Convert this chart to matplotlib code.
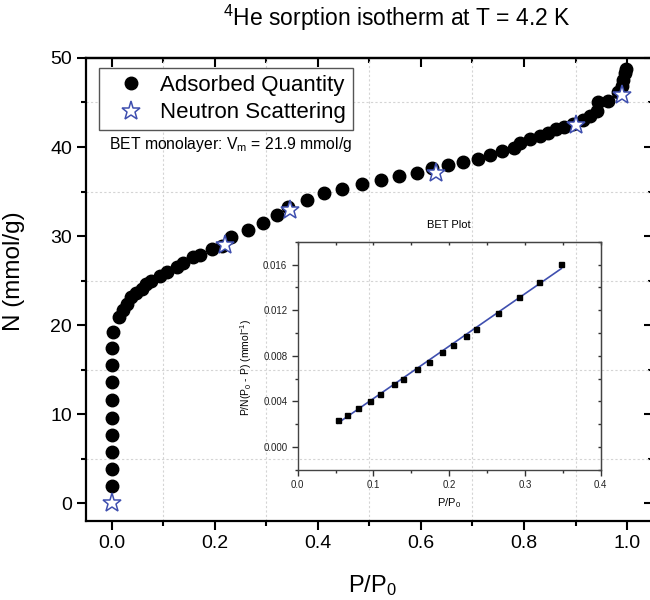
import numpy as np
import matplotlib
matplotlib.use("Agg")
import matplotlib.pyplot as plt
from matplotlib.ticker import MultipleLocator, FormatStrFormatter

plt.rcParams['font.family'] = ['Liberation Sans', 'DejaVu Sans']
plt.rcParams['mathtext.fontset'] = 'custom'
plt.rcParams['mathtext.rm'] = 'Liberation Sans'
plt.rcParams['mathtext.it'] = 'Liberation Sans:italic'

# isotherm
p_ads = [0.0, 0.0, 0.0, 0.0, 0.0, 0.0, 0.0, 0.0, 0.0, 0.003,
         0.014, 0.022, 0.029, 0.038, 0.048, 0.058, 0.067, 0.077, 0.093, 0.107,
         0.126, 0.138, 0.158, 0.172, 0.194, 0.213, 0.232, 0.265, 0.293, 0.320,
         0.343, 0.378, 0.412, 0.447, 0.485, 0.522, 0.558, 0.592, 0.621, 0.653,
         0.681, 0.710, 0.735, 0.757, 0.780, 0.792, 0.812, 0.831, 0.847, 0.863,
         0.877, 0.895, 0.915, 0.928, 0.941, 0.944, 0.963, 0.983, 0.990, 0.993,
         0.996, 0.998]
n_ads = [1.9, 3.85, 5.8, 7.6, 9.6, 11.6, 13.6, 15.5, 17.4, 19.2,
         20.9, 21.7, 22.4, 23.1, 23.6, 24.1, 24.6, 25.0, 25.5, 26.0,
         26.5, 27.0, 27.6, 27.9, 28.5, 28.9, 29.9, 30.7, 31.5, 32.4,
         33.3, 34.0, 34.8, 35.3, 35.8, 36.3, 36.7, 37.1, 37.6, 38.0,
         38.3, 38.7, 39.1, 39.5, 39.9, 40.5, 40.9, 41.2, 41.6, 42.0,
         42.3, 42.6, 43.0, 43.5, 44.0, 45.0, 45.2, 46.2, 46.8, 47.5,
         48.3, 48.8]

# neutron scattering points
p_ns = [0.0, 0.219, 0.346, 0.629, 0.900, 0.990]
n_ns = [0.0, 29.0, 32.9, 37.1, 42.5, 45.8]

# BET plot
p_bet = [0.053, 0.065, 0.079, 0.096, 0.109, 0.127, 0.139, 0.158, 0.173,
         0.191, 0.205, 0.222, 0.235, 0.264, 0.292, 0.318, 0.348]
v_bet = [0.00236, 0.00286, 0.00344, 0.00405, 0.00463, 0.00551, 0.00600,
         0.00682, 0.00750, 0.00833, 0.00898, 0.00973, 0.01032, 0.01175,
         0.01314, 0.01446, 0.01606]
bet_slope = 0.0459
bet_icpt = -0.00033

star_col = '#3F4FAF'

fig = plt.figure(figsize=(6.5, 6), dpi=100)
ax = fig.add_axes([0.1323, 0.1317, 0.872, 0.7717])

ax.plot(p_ads, n_ads, 'o', color='black', ms=9, label='Adsorbed Quantity', zorder=3)
ax.plot(p_ns, n_ns, '*', mfc='white', mec=star_col, mew=1.1, ms=14,
        label='Neutron Scattering', zorder=4)

ax.set_xlim(-0.05, 1.05)
ax.set_ylim(-2, 50)
ax.xaxis.set_major_locator(MultipleLocator(0.2))
ax.xaxis.set_minor_locator(MultipleLocator(0.1))
ax.yaxis.set_major_locator(MultipleLocator(10))
ax.yaxis.set_minor_locator(MultipleLocator(5))
ax.xaxis.set_major_formatter(FormatStrFormatter('%.1f'))
ax.grid(which='minor', color='#d4d4d4', linestyle=(0, (2, 2)), linewidth=0.8)
ax.tick_params(which='major', direction='out', length=6.5, width=1.5, labelsize=14)
ax.tick_params(which='minor', direction='out', length=3.5, width=1.5)
for s in ax.spines.values():
    s.set_linewidth(1.6)

# mirrored ticks pointing inwards on top and right
top = ax.secondary_xaxis('top')
top.xaxis.set_major_locator(MultipleLocator(0.2))
top.xaxis.set_minor_locator(MultipleLocator(0.1))
top.tick_params(which='major', direction='in', length=6.5, width=1.5, labeltop=False)
top.tick_params(which='minor', direction='in', length=3.5, width=1.5)
top.spines['top'].set_linewidth(1.6)
right = ax.secondary_yaxis('right')
right.yaxis.set_major_locator(MultipleLocator(10))
right.yaxis.set_minor_locator(MultipleLocator(5))
right.tick_params(which='major', direction='in', length=6.5, width=1.5, labelright=False)
right.tick_params(which='minor', direction='in', length=3.5, width=1.5)
right.spines['right'].set_linewidth(1.6)

ax.set_xlabel('P/P$_0$', fontsize=17)
ax.set_ylabel('N (mmol/g)', fontsize=17.5)
ax.xaxis.set_label_coords(0.506, -0.112)
ax.yaxis.set_label_coords(-0.108, 0.54)
fig.text(0.611, 0.97, '$^{4}$He sorption isotherm at T = 4.2 K', fontsize=16.5,
         ha='center', va='center')

leg = ax.legend(loc='upper left', bbox_to_anchor=(0.023, 0.978), fontsize=16,
                fancybox=False, framealpha=1, edgecolor='#555555',
                handletextpad=0.15, borderpad=0.3, labelspacing=0.3,
                handlelength=2.3, borderaxespad=0)
leg.get_frame().set_linewidth(1.0)

ax.text(0.04, 0.813, 'BET monolayer: V$_\\mathrm{m}$ = 21.9 mmol/g',
        transform=ax.transAxes, fontsize=11.3, va='center')

# inset BET plot
ins = fig.add_axes([0.458, 0.2167, 0.4662, 0.3805])
ins.patch.set_alpha(0)
ins.plot(p_bet, v_bet, 's', color='black', ms=3.6, zorder=3)
xf = np.array([p_bet[0], p_bet[-1]])
ins.plot(xf, bet_slope * xf + bet_icpt, color=star_col, lw=1.2, zorder=2)
ins.set_xlim(0, 0.4)
ins.set_ylim(-0.002, 0.018)
ins.xaxis.set_major_locator(MultipleLocator(0.1))
ins.xaxis.set_minor_locator(MultipleLocator(0.05))
ins.yaxis.set_major_locator(MultipleLocator(0.004))
ins.yaxis.set_minor_locator(MultipleLocator(0.002))
ins.xaxis.set_major_formatter(FormatStrFormatter('%.1f'))
ins.yaxis.set_major_formatter(FormatStrFormatter('%.3f'))
ins.tick_params(which='major', direction='out', length=4, width=1, labelsize=7,
                color='#333333', labelcolor='#222222')
ins.tick_params(which='minor', direction='out', length=2.5, width=1, color='#333333')
for s in ins.spines.values():
    s.set_linewidth(1.0)
    s.set_color('#444444')
itop = ins.secondary_xaxis('top')
itop.xaxis.set_major_locator(MultipleLocator(0.1))
itop.xaxis.set_minor_locator(MultipleLocator(0.05))
itop.tick_params(which='both', direction='in', length=2.5, width=1, labeltop=False,
                 color='#333333')
itop.spines['top'].set_color('#444444')
iright = ins.secondary_yaxis('right')
iright.yaxis.set_major_locator(MultipleLocator(0.004))
iright.yaxis.set_minor_locator(MultipleLocator(0.002))
iright.tick_params(which='both', direction='in', length=2.5, width=1, labelright=False,
                   color='#333333')
iright.spines['right'].set_color('#444444')

ins.set_title('BET Plot', fontsize=8, pad=10)
ins.set_xlabel('P/P$_0$', fontsize=8)
ins.set_ylabel('P/N(P$_0$ - P) (mmol$^{-1}$)', fontsize=7.5)
ins.xaxis.set_label_coords(0.5, -0.115)
ins.yaxis.set_label_coords(-0.145, 0.45)

fig.savefig('out.png', dpi=100)
